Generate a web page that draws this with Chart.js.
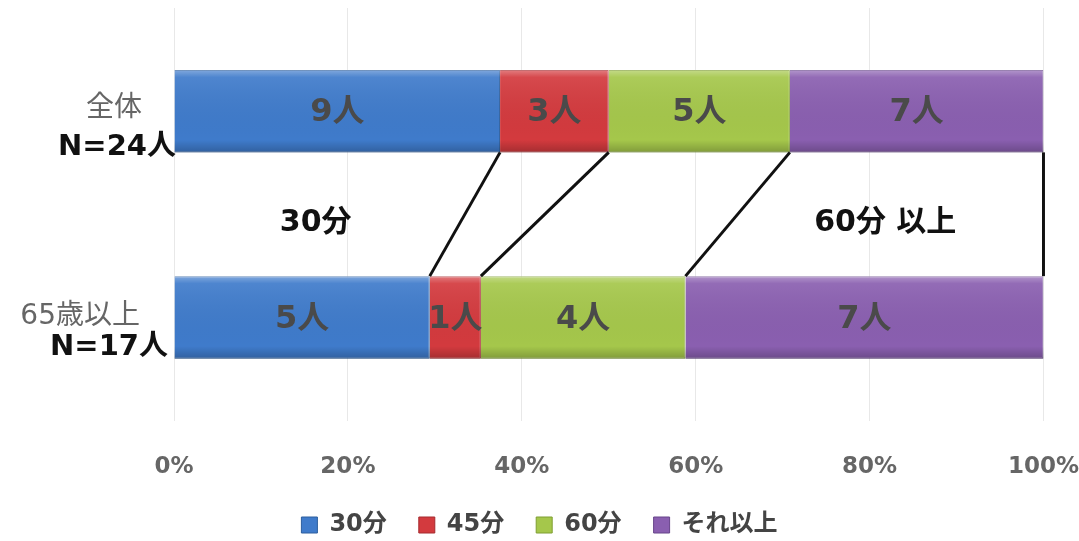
<!DOCTYPE html>
<html><head><meta charset="utf-8">
<script src="https://cdn.jsdelivr.net/npm/chart.js@4"></script>
<style>html,body{margin:0;padding:0;background:#fff}#wrap{width:1079px;height:541px;position:relative}</style>
</head><body><div id="wrap"><canvas id="c"></canvas></div>
<script>
const categoryLine1 = ["全体", "65歳以上"];
const categoryLine2 = ["N=24人", "N=17人"];
const seriesNames = ["30分", "45分", "60分", "それ以上"];
const counts30 = [9, 5];
const counts45 = [3, 1];
const counts60 = [5, 4];
const countsOver = [7, 7];
const tickLabels = ["0%", "20%", "40%", "60%", "80%", "100%"];
const annotationTexts = ["30分", "60分 以上"];

const FONT = "'DejaVu Sans', 'Noto Sans CJK JP', sans-serif";
const colors = ["#3F7BCB", "#D33A3E", "#A5C74B", "#8A5FB0"];
const borders = ["#2C5E9E", "#A52A2E", "#7F9E32", "#67458A"];

const allCounts = [counts30, counts45, counts60, countsOver];
const totals = counts30.map((_, i) => allCounts.reduce((s, a) => s + a[i], 0));
const toPct = arr => arr.map((v, i) => v / totals[i] * 100);

const datasets = allCounts.map((arr, k) => ({
  label: seriesNames[k],
  data: toPct(arr),
  counts: arr,
  backgroundColor: colors[k],
  borderColor: borders[k],
  borderWidth: 1,
  categoryPercentage: 1,
  barPercentage: 0.4
}));

const extras = {
  id: 'extras',
  afterDatasetsDraw(chart) {
    const ctx = chart.ctx;
    const metas = chart.data.datasets.map((d, i) => chart.getDatasetMeta(i));
    // subtle bevel shading on each bar
    ctx.save();
    metas.forEach(m => {
      m.data.forEach(el => {
        const x0 = Math.min(el.base, el.x), w = Math.abs(el.x - el.base);
        const y0 = el.y - el.height / 2, h = el.height;
        const g = ctx.createLinearGradient(0, y0, 0, y0 + h);
        g.addColorStop(0, 'rgba(255,255,255,0.35)');
        g.addColorStop(0.09, 'rgba(255,255,255,0.08)');
        g.addColorStop(0.85, 'rgba(0,0,0,0)');
        g.addColorStop(1, 'rgba(0,0,0,0.22)');
        ctx.fillStyle = g;
        ctx.fillRect(x0, y0, w, h);
      });
    });
    ctx.restore();
    // connector lines (series lines)
    ctx.save();
    ctx.strokeStyle = '#111';
    ctx.lineWidth = 3;
    metas.forEach(m => {
      const a = m.data[0], b = m.data[1];
      ctx.beginPath();
      ctx.moveTo(a.x, a.y + a.height / 2);
      ctx.lineTo(b.x, b.y - b.height / 2);
      ctx.stroke();
    });
    ctx.restore();
    // data labels
    ctx.save();
    ctx.font = "bold 32px " + FONT;
    ctx.fillStyle = '#4a4a4a';
    ctx.textAlign = 'center';
    ctx.textBaseline = 'middle';
    metas.forEach((m, k) => {
      m.data.forEach((el, i) => {
        const p = el.getCenterPoint();
        ctx.fillText(chart.data.datasets[k].counts[i] + '人', p.x, p.y + 2);
      });
    });
    ctx.restore();
    // category labels
    const ys = chart.scales.y;
    ctx.save();
    ctx.textAlign = 'right';
    ctx.textBaseline = 'middle';
    const l1x = [142, 140], l1dy = [-2, -1];
    const l2x = [176, 168], l2dy = [36, 30];
    categoryLine1.forEach((t, i) => {
      const yc = ys.getPixelForValue(i);
      ctx.font = "28px " + FONT;
      ctx.fillStyle = '#666';
      ctx.fillText(t, l1x[i], yc + l1dy[i]);
      ctx.font = "bold 29px " + FONT;
      ctx.fillStyle = '#111';
      ctx.fillText(categoryLine2[i], l2x[i], yc + l2dy[i]);
    });
    // annotations between bars
    const xs = chart.scales.x;
    const ymid = ys.getPixelForValue(0.5) + 9;
    ctx.font = "bold 30px " + FONT;
    ctx.fillStyle = '#111';
    ctx.textAlign = 'center';
    ctx.fillText(annotationTexts[0], xs.getPixelForValue(16.3), ymid);
    ctx.fillText(annotationTexts[1], xs.getPixelForValue(81.8), ymid);
    ctx.restore();
  }
};

new Chart(document.getElementById('c'), {
  type: 'bar',
  data: { labels: categoryLine1.map((t, i) => t + ' ' + categoryLine2[i]), datasets },
  plugins: [extras],
  options: {
    indexAxis: 'y',
    responsive: true,
    maintainAspectRatio: false,
    animation: false,
    layout: { padding: { top: 8, right: 0, bottom: -6, left: 0 } },
    scales: {
      x: {
        stacked: true, min: 0, max: 100,
        ticks: {
          stepSize: 20,
          padding: 0,
          color: '#666',
          font: { family: FONT, size: 23, weight: 'bold' },
          callback: (v, i) => tickLabels[i]
        },
        grid: { color: 'rgba(0,0,0,0.09)', drawTicks: true, tickLength: 33, tickColor: 'rgba(0,0,0,0)' },
        border: { display: false },
        afterFit: s => { s.height = 60.5; }
      },
      y: {
        stacked: true,
        ticks: { display: false },
        grid: { display: false },
        border: { display: false },
        afterFit: s => { s.width = 174; }
      }
    },
    plugins: {
      legend: {
        position: 'bottom',
        labels: {
          color: '#444',
          font: { family: FONT, size: 24, weight: 'bold' },
          boxWidth: 16, boxHeight: 16,
          padding: 32
        }
      },
      tooltip: { enabled: false }
    }
  }
});
</script>
</body></html>
